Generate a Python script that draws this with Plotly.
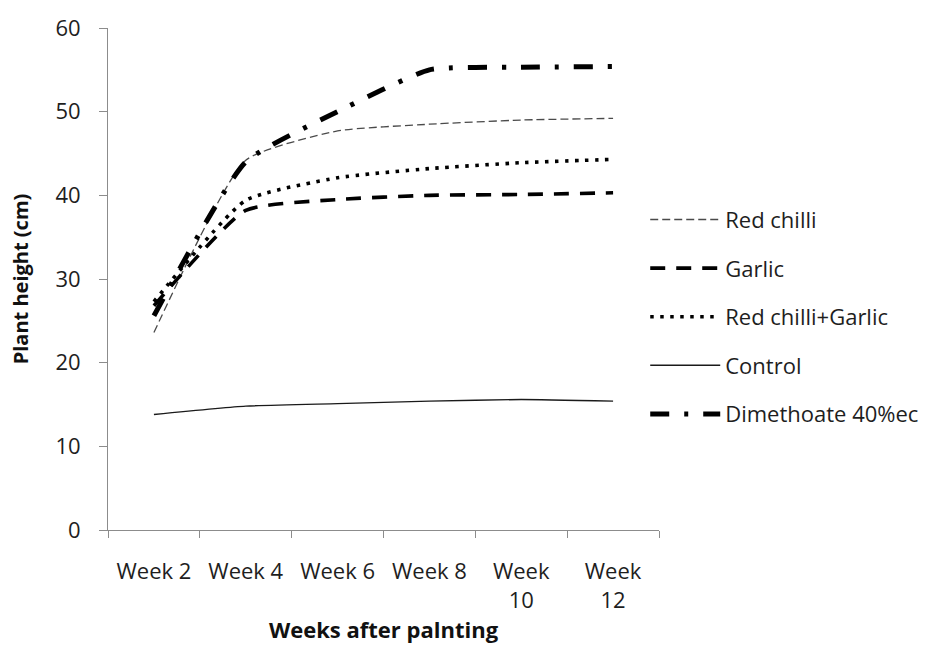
import plotly.graph_objects as go

# Plant height by week for each treatment
weeks = ["Week 2", "Week 4", "Week 6", "Week 8", "Week<br>10", "Week<br>12"]
red_chilli = [23.6, 44.2, 47.7, 48.5, 49.0, 49.2]
garlic = [26.8, 38.2, 39.5, 40.0, 40.1, 40.3]
red_chilli_garlic = [27.3, 39.4, 42.1, 43.2, 43.9, 44.3]
control = [13.8, 14.8, 15.1, 15.4, 15.6, 15.4]
dimethoate = [25.6, 44.0, 50.0, 55.0, 55.3, 55.4]

series = [
    ("Red chilli", red_chilli, dict(color="#4a4a4a", width=1.3, dash="8px,4px")),
    ("Garlic", garlic, dict(color="#000000", width=3.6, dash="15px,11px")),
    ("Red chilli+Garlic", red_chilli_garlic, dict(color="#000000", width=3.6, dash="3.5px,6.5px")),
    ("Control", control, dict(color="#1a1a1a", width=1.4)),
    ("Dimethoate 40%ec", dimethoate, dict(color="#000000", width=5, dash="19px,15px,4px,15px")),
]

fig = go.Figure()
for i, (name, vals, line) in enumerate(series):
    fig.add_trace(go.Scatter(
        x=weeks, y=vals, name=name, mode="lines",
        line=dict(shape="spline", smoothing=0.5, **line),
        legendgroup=f"g{i}",
    ))

font_family = "Open Sans, Noto Sans, sans-serif"
axis_color = "#8c8c8c"
text_color = "#1e1e1e"

fig.update_layout(
    width=936, height=646,
    margin=dict(l=108, r=275, t=27, b=115),
    paper_bgcolor="white", plot_bgcolor="white",
    font=dict(family=font_family, size=22, color=text_color),
    showlegend=True,
    legend=dict(
        x=0.975, xanchor="left", y=0.66, yanchor="top",
        font=dict(size=22, color=text_color),
        itemwidth=70, tracegroupgap=17,
        bgcolor="rgba(0,0,0,0)",
    ),
    xaxis=dict(
        type="category", range=[-0.5, 5.5],
        showline=True, linecolor=axis_color, linewidth=1,
        ticks="outside", tickson="boundaries", ticklen=7, tickcolor=axis_color,
        showgrid=False, zeroline=False,
        tickfont=dict(size=22, color=text_color),
        ticklabelstandoff=22,
        title=dict(text="<b>Weeks after palnting</b>", font=dict(size=22, color="#111111"), standoff=5),
    ),
    yaxis=dict(
        range=[0, 60], dtick=10,
        showline=True, linecolor=axis_color, linewidth=1,
        ticks="outside", ticklen=8, tickcolor=axis_color,
        showgrid=False, zeroline=False,
        tickfont=dict(size=22, color=text_color),
        ticklabelstandoff=14,
        title=dict(text="<b>Plant height (cm)</b>", font=dict(size=20, color="#111111"), standoff=21),
    ),
)

fig.write_html("out.html")
